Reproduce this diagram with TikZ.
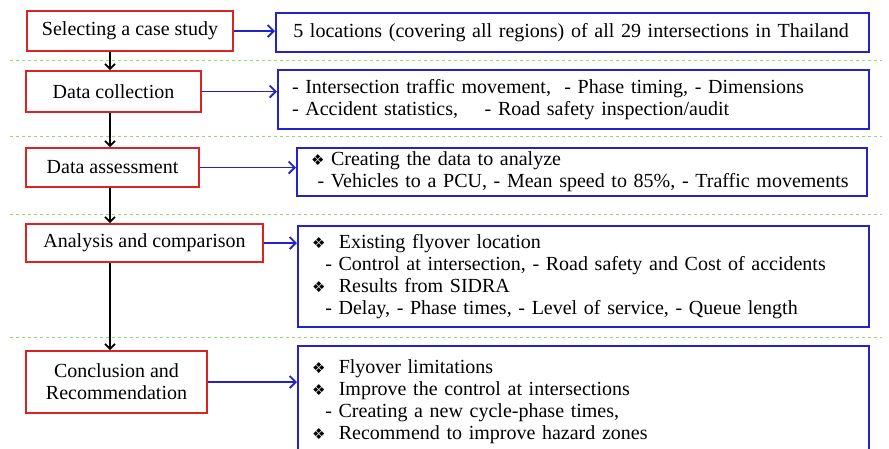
\documentclass[tikz,border=0pt]{standalone}
\usepackage{fontspec}
\setmainfont{Liberation Serif}
\newfontfamily\dejavu{DejaVu Sans}
\usetikzlibrary{arrows.meta}
\definecolor{rbox}{RGB}{220,35,35}
\definecolor{bbox}{RGB}{35,35,200}
\definecolor{gline}{RGB}{150,215,110}
\newcommand{\dia}{{\dejavu\fontsize{15}{15}\selectfont\char"2756}}
\newcommand{\oneline}[1]{\mbox{#1}}
\begin{document}
\begin{tikzpicture}[x=1pt,y=-1pt,
  redbox/.style={draw=rbox,line width=2pt,align=center,inner sep=0pt,anchor=north west,font=\fontsize{20}{22}\selectfont},
  bluebox/.style={draw=bbox,line width=2pt,align=left,inner xsep=14pt,inner ysep=0pt,anchor=north west,font=\fontsize{20}{22}\selectfont},
  barrow/.style={draw=bbox,line width=1.8pt,-{Straight Barb[length=6pt,width=12pt]}},
  karrow/.style={draw=black,line width=1.6pt,-{Straight Barb[length=5pt,width=10pt]}},
  sep/.style={draw=gline,dashed,line width=0.8pt}]
\useasboundingbox (0,0) rectangle (889,448);
\clip (0,0) rectangle (889,448);
% separators
\coordinate (s1a) at (10,60); \coordinate (s1b) at (882,60);
\coordinate (s2a) at (10,136); \coordinate (s2b) at (882,136);
\coordinate (s3a) at (10,214); \coordinate (s3b) at (882,214);
\coordinate (s4a) at (10,337); \coordinate (s4b) at (882,337);
\draw[sep] (s1a) -- (s1b);
\draw[sep] (s2a) -- (s2b);
\draw[sep] (s3a) -- (s3b);
\draw[sep] (s4a) -- (s4b);
% red boxes
\node[redbox,minimum width=206pt,minimum height=40pt] (r1) at (26,10) {Selecting a case study};
\node[redbox,minimum width=175pt,minimum height=41pt] (r2) at (25,70) {Data collection};
\node[redbox,minimum width=173pt,minimum height=39pt] (r3) at (25,147) {Data assessment};
\node[redbox,minimum width=237pt,minimum height=38pt] (r4) at (25,223) {Analysis and comparison};
\node[redbox,minimum width=181pt,minimum height=62pt] (r5) at (25,350) {Conclusion and\\Recommendation};
% blue boxes
\node[bluebox,minimum width=593pt,minimum height=39pt,text width=565pt] (b1) at (275,12) {\oneline{\,5 locations (covering all regions) of all 29 intersections in Thailand}};
\node[bluebox,minimum width=591pt,minimum height=59pt,text width=563pt] (b2) at (277,69) {\oneline{- Intersection traffic movement, \ - Phase timing, - Dimensions}\\\oneline{- Accident statistics, \quad - Road safety inspection/audit}};
\node[bluebox,minimum width=570pt,minimum height=48pt,text width=542pt] (b3) at (296,147) {\oneline{\dia\ Creating the data to analyze}\\\oneline{\ - Vehicles to a PCU, - Mean speed to 85\%, - Traffic movements}};
\node[bluebox,minimum width=571pt,minimum height=101pt,text width=543pt] (b4) at (297,225) {\oneline{\dia\ \ Existing flyover location}\\\oneline{\ \ - Control at intersection, - Road safety and Cost of accidents}\\\oneline{\dia\ \ Results from SIDRA}\\\oneline{\ \ - Delay, - Phase times, - Level of service, - Queue length}};
\node[bluebox,minimum width=571pt,minimum height=112pt,text width=543pt] (b5) at (297,345) {\oneline{\dia\ \ Flyover limitations}\\\oneline{\dia\ \ Improve the control at intersections}\\\oneline{\ \ - Creating a new cycle-phase times,}\\\oneline{\dia\ \ Recommend to improve hazard zones}};
% arrows
\draw[barrow] (r1.east) -- (r1.east -| b1.west);
\draw[barrow] (r2.east) -- (r2.east -| b2.west);
\draw[barrow] (r3.east) -- (r3.east -| b3.west);
\draw[barrow] (r4.east) -- (r4.east -| b4.west);
\draw[barrow] (r5.east) -- (r5.east -| b5.west);
\draw[karrow] (r1.south -| 110,0) -- (r2.north -| 110,0);
\draw[karrow] (r2.south -| 110,0) -- (r3.north -| 110,0);
\draw[karrow] (r3.south -| 110,0) -- (r4.north -| 110,0);
\draw[karrow] (r4.south -| 110,0) -- (r5.north -| 110,0);
\end{tikzpicture}
\end{document}
